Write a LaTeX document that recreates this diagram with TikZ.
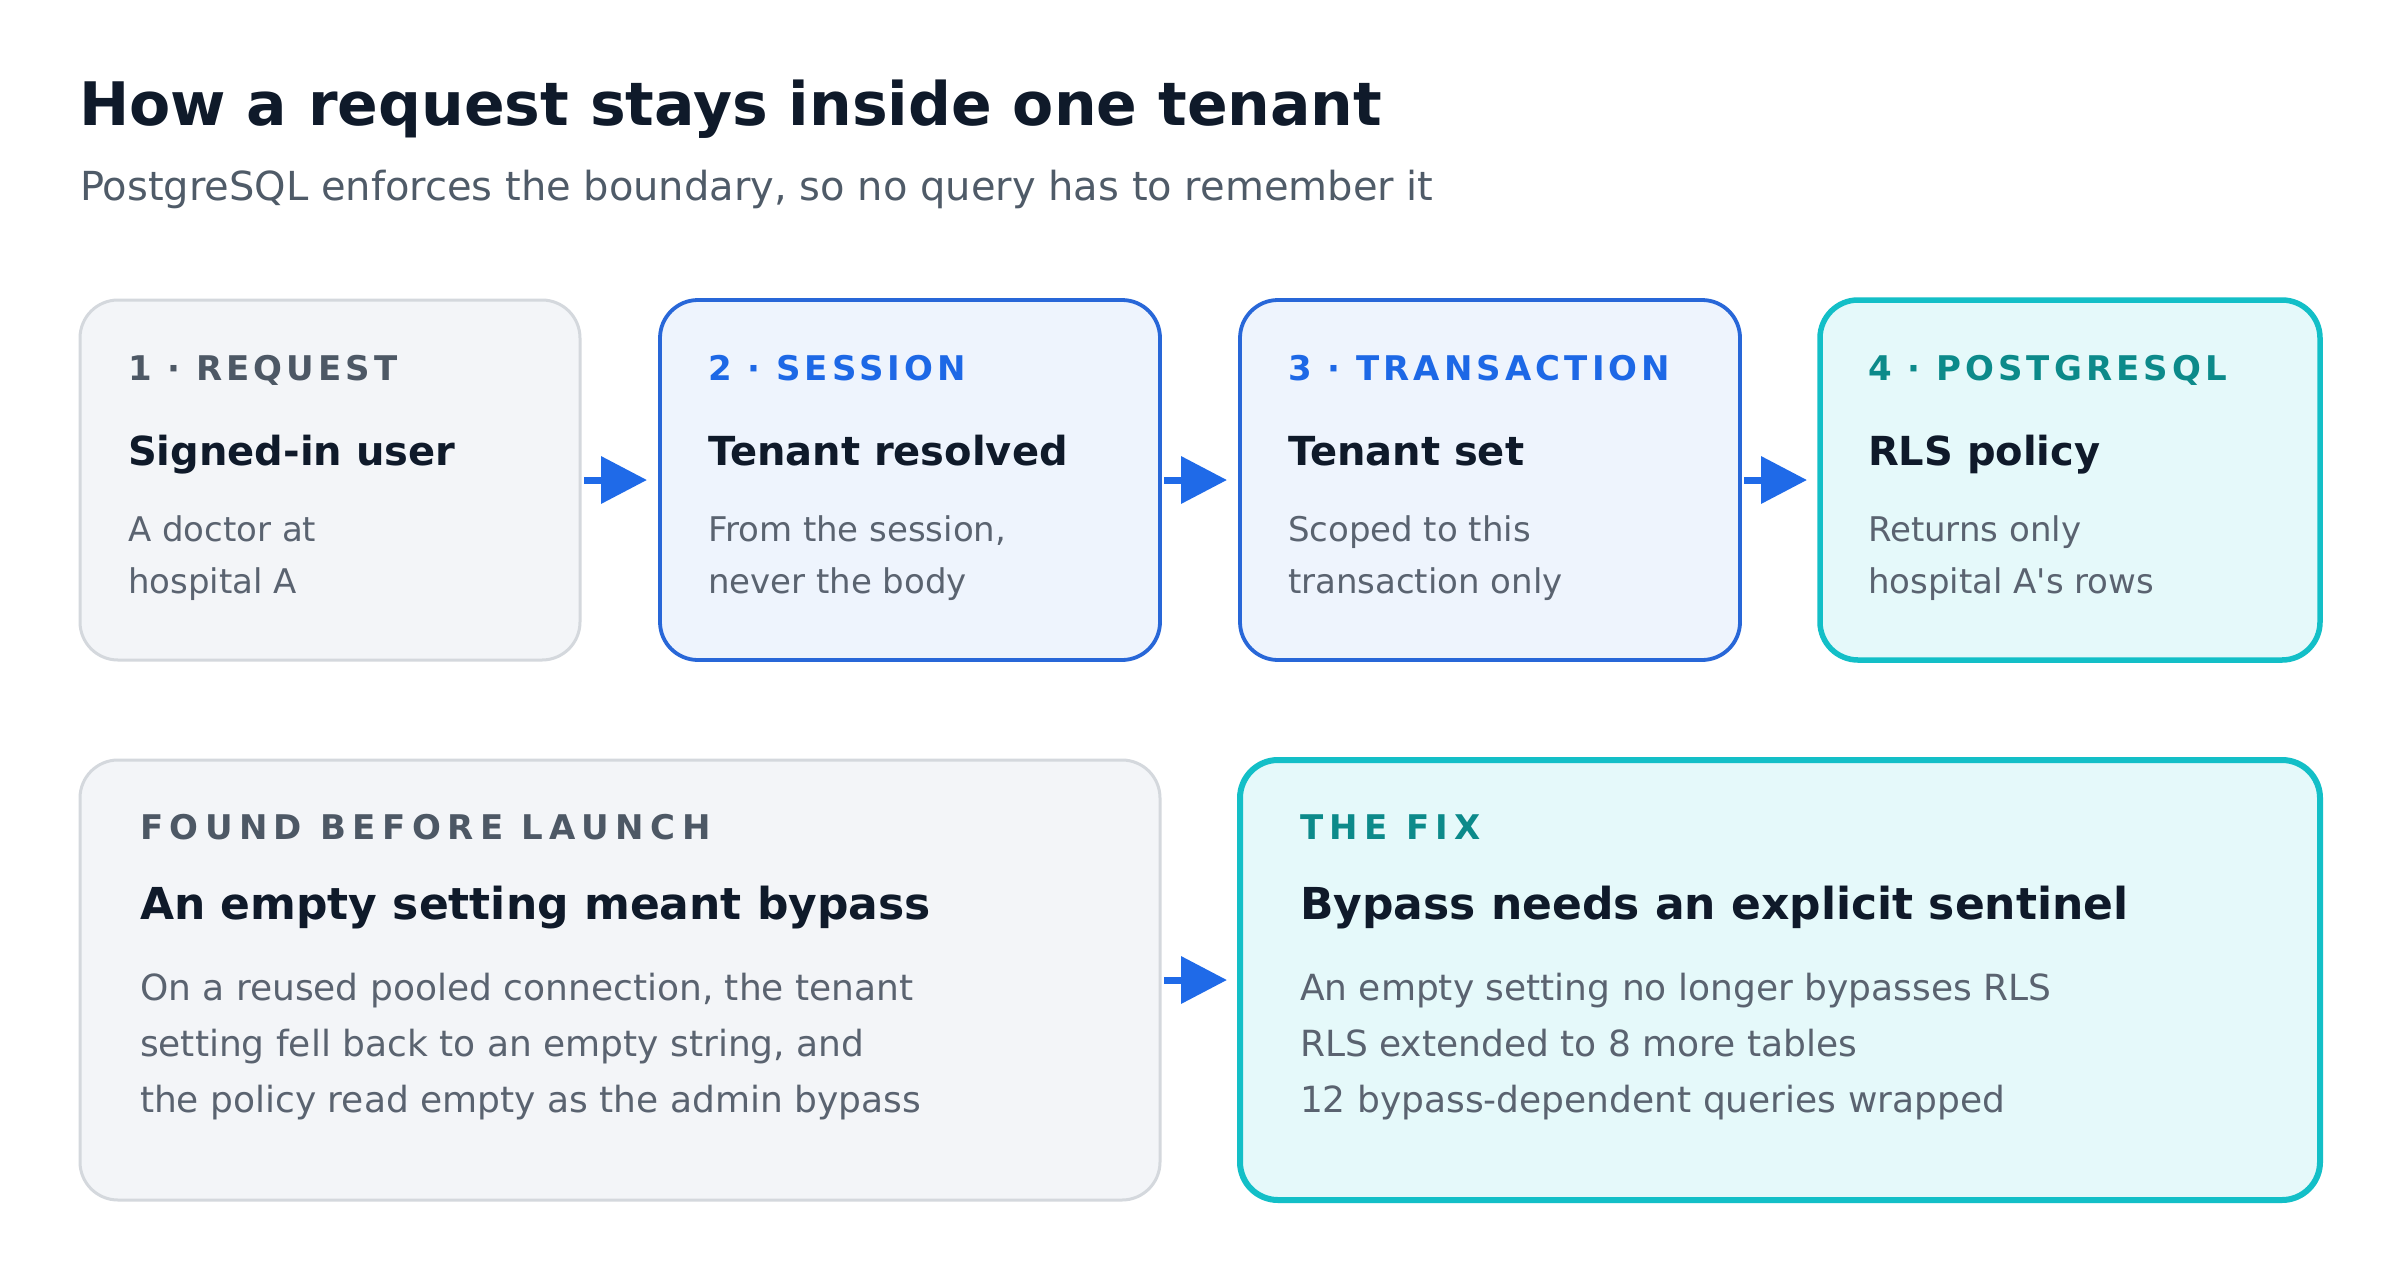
\documentclass[tikz,border=0pt]{standalone}
\usepackage{fontspec}
\setmainfont{DejaVu Sans}
\newfontfamily\labfont{DejaVu Sans}[LetterSpace=12]
\newfontfamily\labfontw{DejaVu Sans}[LetterSpace=19]
\usetikzlibrary{arrows.meta}
\definecolor{titleC}{HTML}{0F1A2A}
\definecolor{subC}{HTML}{4F5B68}
\definecolor{grayLab}{HTML}{4D5865}
\definecolor{bodyC}{HTML}{5A6370}
\definecolor{grayStroke}{HTML}{D4D8DD}
\definecolor{grayFill}{HTML}{F3F5F8}
\definecolor{blueStroke}{HTML}{2867D8}
\definecolor{blueFill}{HTML}{EEF4FD}
\definecolor{blueLab}{HTML}{1D68E6}
\definecolor{tealStroke}{HTML}{13BFC7}
\definecolor{tealFill}{HTML}{E5F9FA}
\definecolor{tealLab}{HTML}{0C8A8A}
\definecolor{arrC}{HTML}{1F6AE8}
\tikzset{
  card/.style={rectangle, rounded corners=38pt, minimum width=500pt, minimum height=360pt, outer sep=0pt, inner sep=0pt},
  wide/.style={card, minimum width=1080pt, minimum height=440pt},
  graycard/.style={fill=grayFill, draw=grayStroke, line width=3pt},
  bluecard/.style={fill=blueFill, draw=blueStroke, line width=3.8pt},
  tealcard/.style={fill=tealFill, draw=tealStroke, line width=5.5pt},
  txt/.style={anchor=base west, inner sep=0pt, outer sep=0pt},
  lab/.style={txt, font=\labfont\bfseries\fontsize{34}{40}\selectfont},
  labw/.style={txt, font=\labfontw\bfseries\fontsize{34}{40}\selectfont},
  ctitle/.style={txt, text=titleC, font=\bfseries\fontsize{40}{48}\selectfont},
  wtitle/.style={txt, text=titleC, font=\bfseries\fontsize{44}{52}\selectfont},
  body/.style={txt, text=bodyC, font=\fontsize{34}{40}\selectfont},
  wbody/.style={txt, text=bodyC, font=\fontsize{36}{42}\selectfont},
  flow/.style={draw=arrC, line width=7pt, -{Triangle[length=46pt,width=46pt]}, shorten <=4pt, shorten >=13pt}
}
\begin{document}
\begin{tikzpicture}[x=1pt,y=-1pt]
\useasboundingbox[fill=white] (0,0) rectangle (2400,1280);

\node[txt, text=titleC, font=\bfseries\fontsize{60}{70}\selectfont] (title) at (79,125) {How a request stays inside one tenant};
\node[txt, text=subC, font=\fontsize{40}{48}\selectfont] (subtitle) at (80,200) {PostgreSQL enforces the boundary, so no query has to remember it};

% top row cards
\node[card, graycard] (b1) at (330,480) {};
\node[card, bluecard] (b2) at (910,480) {};
\node[card, bluecard] (b3) at (1490,480) {};
\node[card, tealcard] (b4) at (2070,480) {};

\node[lab, text=grayLab] (b1k) at ([shift={(48pt,-80pt)}]b1.north west) {1 · REQUEST};
\node[ctitle] (b1t) at ([shift={(48pt,-165pt)}]b1.north west) {Signed-in user};
\node[body] (b1a) at ([shift={(48pt,-241pt)}]b1.north west) {A doctor at};
\node[body] (b1b) at ([shift={(48pt,-293pt)}]b1.north west) {hospital A};

\node[lab, text=blueLab] (b2k) at ([shift={(48pt,-80pt)}]b2.north west) {2 · SESSION};
\node[ctitle] (b2t) at ([shift={(48pt,-165pt)}]b2.north west) {Tenant resolved};
\node[body] (b2a) at ([shift={(48pt,-241pt)}]b2.north west) {From the session,};
\node[body] (b2b) at ([shift={(48pt,-293pt)}]b2.north west) {never the body};

\node[lab, text=blueLab] (b3k) at ([shift={(48pt,-80pt)}]b3.north west) {3 · TRANSACTION};
\node[ctitle] (b3t) at ([shift={(48pt,-165pt)}]b3.north west) {Tenant set};
\node[body] (b3a) at ([shift={(48pt,-241pt)}]b3.north west) {Scoped to this};
\node[body] (b3b) at ([shift={(48pt,-293pt)}]b3.north west) {transaction only};

\node[lab, text=tealLab] (b4k) at ([shift={(48pt,-80pt)}]b4.north west) {4 · POSTGRESQL};
\node[ctitle] (b4t) at ([shift={(48pt,-165pt)}]b4.north west) {RLS policy};
\node[body] (b4a) at ([shift={(48pt,-241pt)}]b4.north west) {Returns only};
\node[body] (b4b) at ([shift={(48pt,-293pt)}]b4.north west) {hospital A\textquotesingle s rows};

% bottom row cards
\node[wide, graycard] (f1) at (620,980) {};
\node[wide, tealcard, line width=6pt] (f2) at (1780,980) {};

\node[labw, text=grayLab] (f1k) at ([shift={(60pt,-79pt)}]f1.north west) {FOUND BEFORE LAUNCH};
\node[wtitle] (f1t) at ([shift={(60pt,-159pt)}]f1.north west) {An empty setting meant bypass};
\node[wbody] (f1a) at ([shift={(60pt,-240pt)}]f1.north west) {On a reused pooled connection, the tenant};
\node[wbody] (f1b) at ([shift={(60pt,-296pt)}]f1.north west) {setting fell back to an empty string, and};
\node[wbody] (f1c) at ([shift={(60pt,-352pt)}]f1.north west) {the policy read empty as the admin bypass};

\node[labw, text=tealLab] (f2k) at ([shift={(60pt,-79pt)}]f2.north west) {THE FIX};
\node[wtitle] (f2t) at ([shift={(60pt,-159pt)}]f2.north west) {Bypass needs an explicit sentinel};
\node[wbody] (f2a) at ([shift={(60pt,-240pt)}]f2.north west) {An empty setting no longer bypasses RLS};
\node[wbody] (f2b) at ([shift={(60pt,-296pt)}]f2.north west) {RLS extended to 8 more tables};
\node[wbody] (f2c) at ([shift={(60pt,-352pt)}]f2.north west) {12 bypass-dependent queries wrapped};

% connectors
\draw[flow] (b1) -- (b2);
\draw[flow] (b2) -- (b3);
\draw[flow] (b3) -- (b4);
\draw[flow] (f1) -- (f2);
\end{tikzpicture}
\end{document}
